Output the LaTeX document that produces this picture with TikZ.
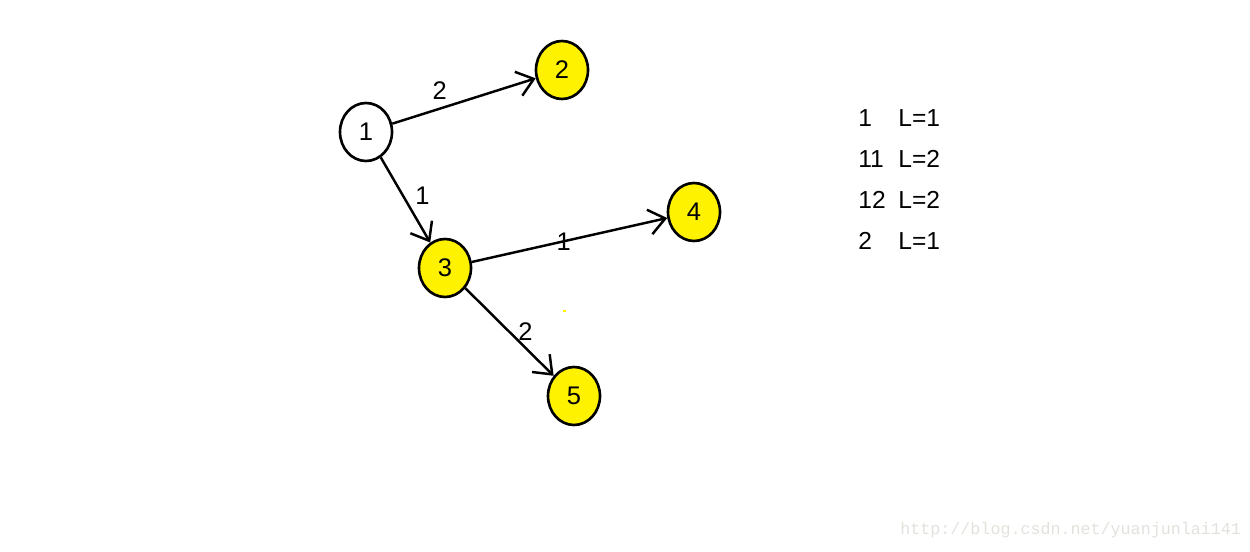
\documentclass[tikz,border=0pt]{standalone}
\usepackage{fontspec}
\setmainfont{Liberation Sans}
\setmonofont{Liberation Mono}
\usepackage{tikz}
\usetikzlibrary{shapes.geometric, arrows.meta, positioning}
\definecolor{amarilloNodo}{HTML}{FFF200}
\definecolor{grisMarca}{HTML}{E2E2DC}

\begin{document}
\begin{tikzpicture}[
        vertice/.style={ellipse, draw=black, line width=1.5pt, minimum width=1.04cm,
            minimum height=1.16cm, inner sep=0pt, font=\fontsize{14.5}{17}\selectfont},
        activo/.style={vertice, fill=amarilloNodo},
        arista/.style={-{Straight Barb[length=3.2mm, width=5mm]}, line width=1.4pt,
            font=\fontsize{14.5}{17}\selectfont},
        leyenda/.style={anchor=west, inner sep=0pt, font=\fontsize{14}{16}\selectfont}
    ]
        \useasboundingbox (0,0) rectangle (25,11.02);

        \node[vertice] (v1) at (7.32,8.38) {1};
        \node[activo] (v2) at (11.24,9.62) {2};
        \node[activo] (v3) at (8.90,5.66) {3};
        \node[activo] (v4) at (13.88,6.78) {4};
        \node[activo] (v5) at (11.48,3.10) {5};

        \draw[arista] (v1) -- node[pos=0.33, above=1pt]{2} (v2);
        \draw[arista] (v1) -- node[pos=0.45, right=3pt]{1} (v3);
        \draw[arista] (v3) -- node[pos=0.47]{1} (v4);
        \draw[arista] (v3) -- node[pos=0.5, right=1pt]{2} (v5);

        \fill[amarilloNodo] (11.26,4.78) rectangle (11.31,4.83);

        % tabla de la derecha
        \node[leyenda] (c1) at (17.16,8.66) {1};
        \node[leyenda] (l1) at (17.96,8.66) {L=1};
        \node[leyenda] (c2) at (17.16,7.84) {11};
        \node[leyenda] (l2) at (17.96,7.84) {L=2};
        \node[leyenda] (c3) at (17.16,7.02) {12};
        \node[leyenda] (l3) at (17.96,7.02) {L=2};
        \node[leyenda] (c4) at (17.16,6.20) {2};
        \node[leyenda] (l4) at (17.96,6.20) {L=1};

        \node[anchor=west, inner sep=0pt, text=grisMarca, font=\ttfamily\fontsize{9.5}{11}\selectfont]
            (marca) at (18.0,0.42) {http://blog.csdn.net/yuanjunlai141};
    \end{tikzpicture}
\end{document}
